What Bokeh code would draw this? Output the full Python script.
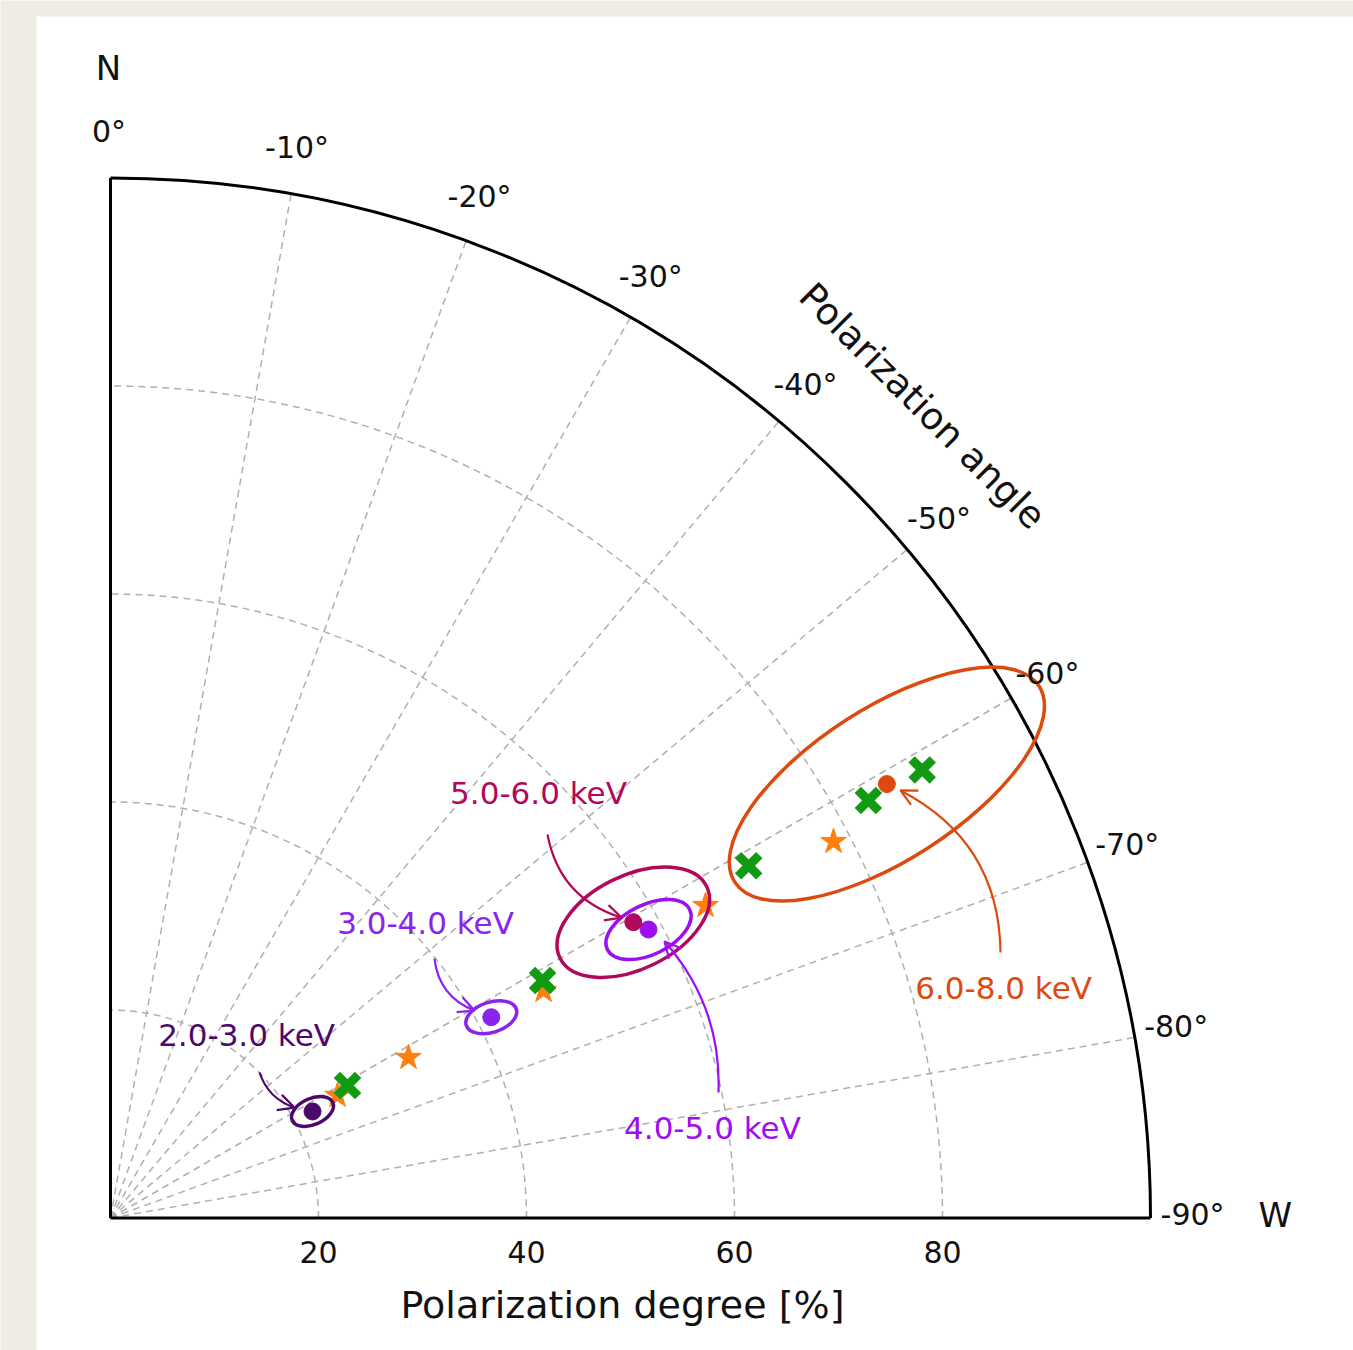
import numpy as np
from bokeh.plotting import figure
from bokeh.models import Range1d, Arrow, OpenHead, BoxAnnotation
from bokeh.core.properties import value
from bokeh.embed import file_html
from bokeh.resources import INLINE

# ---------------- data ----------------
bands = ["2.0-3.0 keV", "3.0-4.0 keV", "4.0-5.0 keV", "5.0-6.0 keV", "6.0-8.0 keV"]
band_pd = [21.96, 41.39, 58.70, 57.76, 85.52]          # polarization degree [%]
band_pa = [-62.2, -62.2, -61.8, -60.5, -60.8]          # polarization angle [deg]
band_colors = ["#4b0a6b", "#8a22f0", "#9c0ff0", "#b0085a", "#dd4a10"]
# contour ellipses (full axes in % PD, tilt in deg)
ell_major = [4.27, 5.06, 8.8, 15.7, 34.8]
ell_minor = [2.52, 2.9, 4.8, 9.0, 14.6]
ell_tilt = [24, 18, 26, 26, 32.8]

model_x_pd = [26.11, 47.41, 70.09, 83.20, 89.15]
model_x_pa = [-60.8, -61.2, -61.1, -61.15, -61.1]
model_star_pd = [24.81, 32.54, 47.03, 64.62, 78.38]
model_star_pa = [-61.65, -61.7, -62.3, -62.3, -62.5]

r_ticks = [20, 40, 60, 80]
r_tick_labels = ["20", "40", "60", "80"]
theta_ticks = [0, -10, -20, -30, -40, -50, -60, -70, -80, -90]
theta_tick_labels = ["0°", "-10°", "-20°", "-30°", "-40°", "-50°", "-60°", "-70°", "-80°", "-90°"]


def to_xy(pd, pa):
    a = np.radians(90.0 + np.asarray(pa, dtype=float))
    r = np.asarray(pd, dtype=float)
    return r * np.cos(a), r * np.sin(a)


S = 10.4  # px per % (layout)
W, H = 1353, 1350
OX, OY = 110.0, 1217.5  # origin in page pixels
x0 = (0 - OX) / S
y1 = (OY - 0) / S
p = figure(width=W, height=H, x_range=Range1d(x0, x0 + W / S), y_range=Range1d(y1 - H / S, y1),
           output_backend="svg", toolbar_location=None, min_border=0,
           x_axis_type=None, y_axis_type=None)
p.outline_line_color = None
p.background_fill_color = "#efece6"
p.border_fill_color = "#efece6"
p.add_layout(BoxAnnotation(left=(36 - OX) / S, top=(OY - 16) / S, fill_color="white",
                           fill_alpha=1.0, line_color=None, level="underlay"))

FONT = value("DejaVu Sans")
grid_color = "#b0b0b0"

# grid circles
for r in r_ticks:
    p.arc(x=0, y=0, radius=r, start_angle=0, end_angle=np.pi / 2,
          line_color=grid_color, line_width=1.5, line_dash="7 5")
# radial grid lines
inner = [t for t in theta_ticks if t not in (0, -90)]
gx, gy = to_xy([100] * len(inner), inner)
p.segment(x0=[0] * len(inner), y0=[0] * len(inner), x1=gx, y1=gy,
          line_color=grid_color, line_width=1.5, line_dash="7 5")

# frame
p.arc(x=0, y=0, radius=100, start_angle=0, end_angle=np.pi / 2, line_color="black", line_width=3)
p.segment(x0=[0, 0], y0=[0, 0], x1=[0, 100], y1=[100, 0], line_color="black", line_width=3)

# model points
sx, sy = to_xy(model_star_pd, model_star_pa)
p.scatter(sx, sy, marker="star", size=27, fill_color="#ff7f0e", line_color="#ff7f0e", line_width=1)
mx, my = to_xy(model_x_pd, model_x_pa)
p.scatter(mx, my, marker="x", size=30, line_color="#139a13", line_width=9)

# measurements + contours
bx, by = to_xy(band_pd, band_pa)
p.ellipse(x=bx, y=by, width=ell_major, height=ell_minor, angle=ell_tilt, angle_units="deg",
          fill_color=None, line_color=band_colors, line_width=3.5)
p.scatter(bx, by, size=17, fill_color=band_colors, line_color=band_colors)

# annotations (label centre, arrow start, arrow end, arc3 rad) in data units
ann_label_xy = [(13.08, 17.60), (30.29, 28.41), (57.88, 8.70), (41.15, 40.82), (85.87, 22.07)]
ann_start = [(14.33, 13.99), (31.15, 24.95), (58.46, 12.07), (42.02, 36.88), (85.58, 25.53)]
ann_end = [(17.69, 10.62), (35.0, 19.95), (53.27, 26.59), (49.13, 28.89), (75.96, 41.11)]
ann_rad = [0.25, 0.3, 0.2, 0.3, 0.3]

for lab, col, (lx, ly), (ax0, ay0), (ax1, ay1), rad in zip(bands, band_colors, ann_label_xy,
                                                          ann_start, ann_end, ann_rad):
    mxm, mym = (ax0 + ax1) / 2, (ay0 + ay1) / 2
    dx, dy = ax1 - ax0, ay1 - ay0
    cx, cy = mxm + rad * dy, mym - rad * dx
    p.quadratic(x0=[ax0], y0=[ay0], x1=[ax1], y1=[ay1], cx=[cx], cy=[cy],
                line_color=col, line_width=2.2)
    p.add_layout(Arrow(end=OpenHead(size=16, line_color=col, line_width=2.2),
                       x_start=cx, y_start=cy, x_end=ax1, y_end=ay1, line_alpha=0))
    p.text(x=[lx], y=[ly], text=[lab], text_color=col, text_font=FONT, text_font_size="31px",
           text_align="center", text_baseline="middle")

# radial tick labels
p.text(x=r_ticks, y=[-3.3] * len(r_ticks), text=r_tick_labels, text_font=FONT,
       text_font_size="30px", text_align="center", text_baseline="middle", text_color="#111111")
# angular tick labels
tx, ty = to_xy([104.2] * len(theta_ticks), theta_ticks)
p.text(x=tx - 0.15, y=ty + 0.3, text=theta_tick_labels, text_font=FONT, text_font_size="30px",
       text_align="center", text_baseline="middle", text_color="#111111")

# axis titles
p.text(x=[49.23], y=[-8.4], text=["Polarization degree [%]"], text_font=FONT,
       text_font_size="38px", text_align="center", text_baseline="middle", text_color="#111111")
ax_, ay_ = to_xy([110.4], [-45])
p.text(x=ax_, y=ay_, text=["Polarization angle"], angle=-np.pi / 4, text_font=FONT,
       text_font_size="37px", text_align="center", text_baseline="middle", text_color="#111111")
p.text(x=[-0.19, 112.0], y=[110.6, 0.3], text=["N", "W"], text_font=FONT,
       text_font_size="34px", text_align="center", text_baseline="middle", text_color="#111111")

open("out.html", "w").write(file_html(p, INLINE))
